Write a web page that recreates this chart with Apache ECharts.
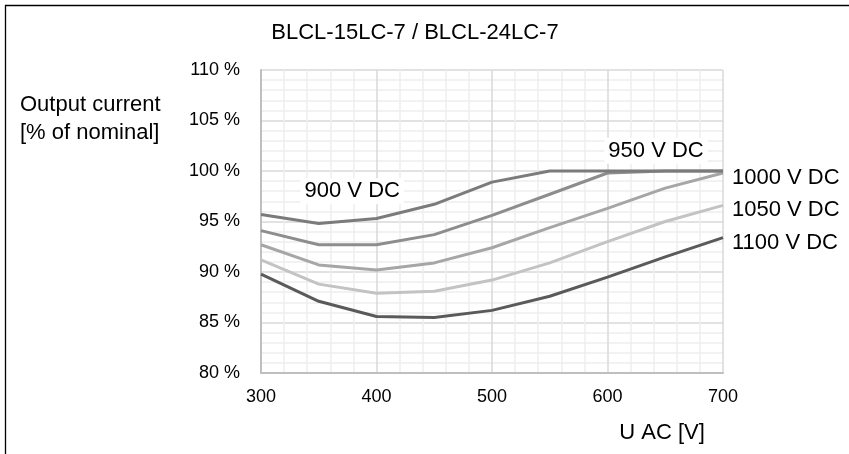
<!DOCTYPE html>
<html>
<head>
<meta charset="utf-8">
<script src="https://cdn.jsdelivr.net/npm/echarts@6/dist/echarts.min.js"></script>
<style>
html,body{margin:0;padding:0;background:#fff;}
#chart{width:849px;height:454px;}
</style>
</head>
<body>
<div id="chart"></div>
<script>
var titleText = 'BLCL-15LC-7 / BLCL-24LC-7';
var yAxisName = 'Output current\n[% of nominal]';
var xAxisName = 'U AC [V]';
var uac = [300, 350, 400, 450, 500, 550, 600, 650, 700];
var seriesNames = ['900 V DC', '950 V DC', '1000 V DC', '1050 V DC', '1100 V DC'];
var v900  = [95.7, 94.8, 95.3, 96.7, 98.9, 100, 100, 100, 100];
var v950  = [94.1, 92.7, 92.7, 93.7, 95.6, 97.7, 99.8, 100, 100];
var v1000 = [92.7, 90.7, 90.2, 90.9, 92.4, 94.4, 96.3, 98.3, 99.8];
var v1050 = [91.2, 88.8, 87.9, 88.1, 89.2, 90.9, 93.0, 95.0, 96.6];
var v1100 = [89.8, 87.1, 85.6, 85.5, 86.2, 87.6, 89.5, 91.5, 93.4];
var yTicks = [80, 85, 90, 95, 100, 105, 110];
var xTicks = [300, 400, 500, 600, 700];
// label anchor positions (data space) for the two inline labels
var label900Pos = [379, 98.0];
var label950Pos = [642, 102.0];

var colors = ['#7b7b7b', '#8d8d8d', '#a6a6a6', '#c3c3c3', '#5a5a5a'];
var values = [v900, v950, v1000, v1050, v1100];
var FONT = '"Liberation Sans", Arial, sans-serif';

function pairs(arr){ return uac.map(function(x,i){ return [x, arr[i]]; }); }

var series = values.map(function(arr, i){
  var s = {
    name: seriesNames[i],
    type: 'line',
    data: pairs(arr),
    symbol: 'none',
    smooth: false,
    lineStyle: {color: colors[i], width: 3},
    z: 10 - i
  };
  if (i >= 2) {
    s.endLabel = {
      show: true,
      formatter: seriesNames[i],
      color: '#000',
      fontSize: 22,
      fontFamily: FONT,
      distance: 9,
      offset: [0, 5]
    };
  } else {
    var pos = i === 0 ? label900Pos : label950Pos;
    s.markPoint = {
      symbol: 'rect',
      symbolSize: 0.001,
      silent: true,
      data: [{coord: pos, value: seriesNames[i]}],
      label: {
        show: true,
        position: 'inside',
        formatter: seriesNames[i],
        color: '#000',
        fontSize: 22,
        fontFamily: FONT,
        backgroundColor: '#fff',
        padding: [2, 4, 2, 4]
      }
    };
  }
  return s;
});

var chart = echarts.init(document.getElementById('chart'), null, {renderer: 'canvas'});
chart.setOption({
  animation: false,
  backgroundColor: '#fff',
  grid: {left: 261, right: 126, top: 70, bottom: 81, containLabel: false},
  xAxis: {
    type: 'value',
    min: xTicks[0],
    max: xTicks[xTicks.length - 1],
    interval: 100,
    axisLine: {show: true, onZero: false, lineStyle: {color: '#bfbfbf', width: 2}},
    axisTick: {show: false},
    axisLabel: {color: '#000', fontSize: 18, fontFamily: FONT, margin: 15},
    splitLine: {show: true, lineStyle: {color: '#d9d9d9', width: 1.5}},
    minorTick: {show: false, splitNumber: 5},
    minorSplitLine: {show: true, lineStyle: {color: '#eeeeee', width: 1.5}}
  },
  yAxis: {
    type: 'value',
    min: yTicks[0],
    max: yTicks[yTicks.length - 1],
    interval: 5,
    axisLine: {show: true, lineStyle: {color: '#bfbfbf', width: 2}},
    axisTick: {show: false},
    axisLabel: {color: '#000', fontSize: 18, fontFamily: FONT, margin: 21, formatter: '{value} %'},
    splitLine: {show: true, lineStyle: {color: '#d9d9d9', width: 1.5}},
    minorTick: {show: false, splitNumber: 5},
    minorSplitLine: {show: true, lineStyle: {color: '#eeeeee', width: 1.5}}
  },
  series: series,
  graphic: [
    {type: 'rect', shape: {x: 5.5, y: 5.5, width: 900, height: 600}, style: {fill: 'none', stroke: '#000', lineWidth: 1.3}, silent: true, z: 100},
    {type: 'text', x: 415, y: 33, style: {text: titleText, fill: '#000', font: '22px ' + FONT, textAlign: 'center', textVerticalAlign: 'middle'}, silent: true, z: 100},
    {type: 'text', x: 20, y: 91, style: {text: yAxisName, fill: '#000', font: '22px ' + FONT, lineHeight: 28}, silent: true, z: 100},
    {type: 'text', x: 662, y: 433, style: {text: xAxisName, fill: '#000', font: '22px ' + FONT, textAlign: 'center', textVerticalAlign: 'middle'}, silent: true, z: 100}
  ]
});
</script>
</body>
</html>
